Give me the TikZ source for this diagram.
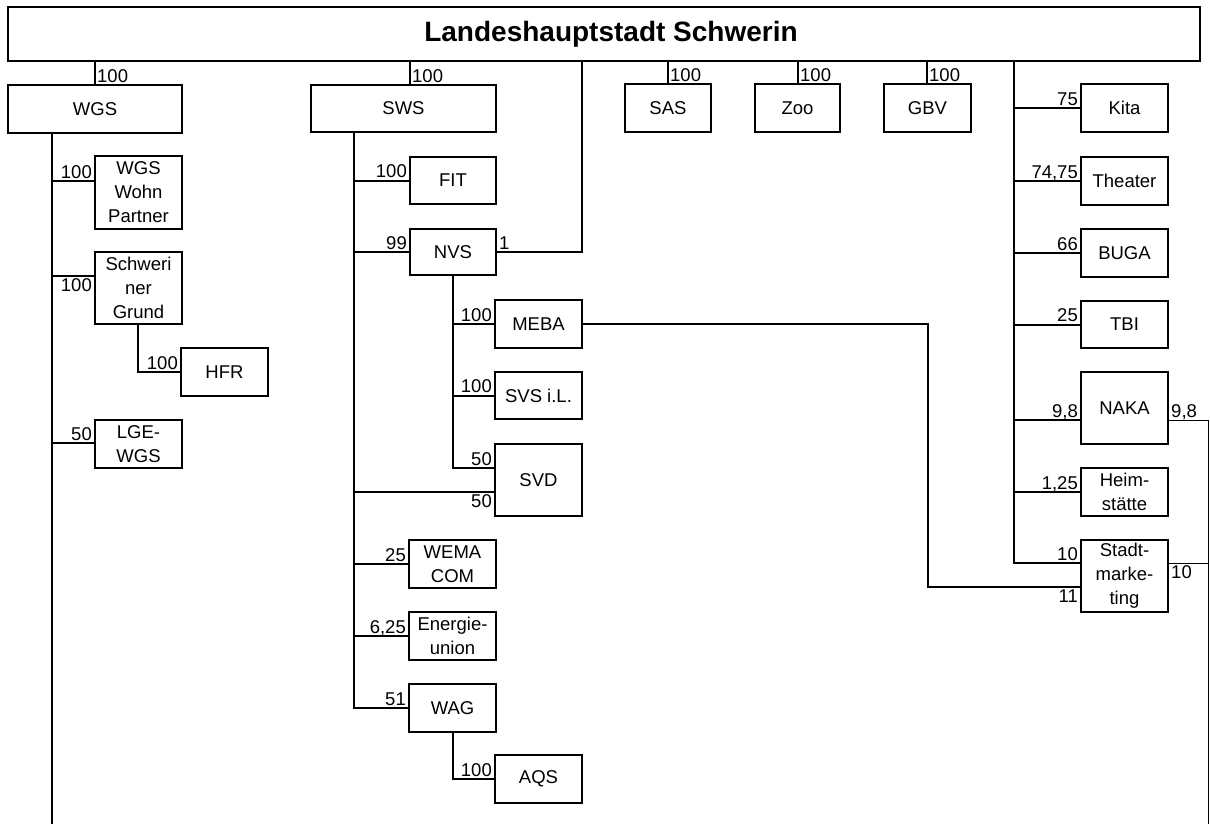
\documentclass[tikz,border=0pt]{standalone}
\usepackage{fontspec}
\setmainfont{Liberation Sans}
\newcommand{\fs}{\fontsize{18.5}{24}\selectfont}
\newcommand{\bx}[6]{\node[bx,minimum width={(#4-#2)*1pt},minimum height={(#5-#3)*1pt}] (#1) at ({(#2+#4)/2},{(#3+#5)/2}) {#6};}
\begin{document}
\begin{tikzpicture}[x=1pt,y=-1pt,
 bx/.style={draw,line width=2pt,inner sep=0pt,align=center,font=\fs},
 lbl/.style={inner xsep=2pt,inner ysep=2.5pt,font=\fs,text depth=0pt},
 ln/.style={line width=2pt},
 thn/.style={line width=1pt},
 mid/.style={line width=1.6pt}]
\useasboundingbox (0,0) rectangle (1210,824);
\fill[white] (0,0) rectangle (1210,824);

% title
\node[draw,line width=2pt,minimum width=1192pt,minimum height=54pt,inner sep=0pt,
      font=\fontsize{28}{32}\selectfont\bfseries] (title) at (604,34)
      {\hspace*{14pt}Landeshauptstadt Schwerin};

% boxes
\bx{WGS}{8}{85}{182}{133}{WGS}
\bx{WWP}{95}{156}{182}{229}{WGS\\Wohn\\Partner}
\bx{SG}{95}{252}{182}{324}{Schweri\\ner\\Grund}
\bx{HFR}{181}{348}{268}{396}{HFR}
\bx{LGE}{95}{420}{182}{468}{LGE-\\WGS}
\bx{SWS}{311}{85}{496}{132}{SWS}
\bx{FIT}{410}{157}{496}{204}{FIT}
\bx{NVS}{410}{229}{496}{275}{NVS}
\bx{MEBA}{495}{300}{582}{348}{MEBA}
\bx{SVS}{495}{372}{582}{419}{SVS i.L.}
\bx{SVD}{495}{444}{582}{516}{SVD}
\bx{WEMA}{409}{540}{496}{588}{WEMA\\COM}
\bx{EU}{409}{612}{496}{660}{Energie-\\union}
\bx{WAG}{409}{684}{496}{732}{WAG}
\bx{AQS}{495}{755}{582}{803}{AQS}
\bx{SAS}{625}{84}{711}{132}{SAS}
\bx{Zoo}{755}{84}{840}{132}{Zoo}
\bx{GBV}{884}{84}{971}{132}{GBV}
\bx{Kita}{1081}{84}{1168}{132}{Kita}
\bx{Theater}{1081}{157}{1168}{205}{Theater}
\bx{BUGA}{1081}{229}{1168}{277}{BUGA}
\bx{TBI}{1081}{301}{1168}{348}{TBI}
\bx{NAKA}{1081}{372}{1168}{444}{NAKA}
\bx{Heim}{1081}{468}{1168}{516}{Heim-\\stätte}
\bx{Stadt}{1081}{540}{1168}{612}{Stadt-\\marke-\\ting}

% connectors from title
\draw[ln] (title.south -| 95,0) -- (WGS.north -| 95,0);
\draw[ln] (title.south -| 410,0) -- (SWS.north -| 410,0);
\draw[ln] (title.south -| 668,0) -- (SAS.north -| 668,0);
\draw[ln] (title.south -| 798,0) -- (Zoo.north -| 798,0);
\draw[ln] (title.south -| 927,0) -- (GBV.north -| 927,0);

% WGS tree
\coordinate (wT) at (52,824);
\draw[ln] (WGS.south -| wT) -- (wT);
\draw[ln] (wT |- 0,181) -- (WWP.west |- 0,181);
\draw[ln] (wT |- 0,276) -- (SG.west |- 0,276);
\draw[ln] (wT |- 0,443) -- (LGE.west |- 0,443);
\draw[ln] (SG.south -| 138,0) |- (HFR.west);

% SWS tree
\coordinate (sT) at (354,708);
\draw[ln] (SWS.south -| sT) -- (sT) -- (WAG.west);
\draw[ln] (sT |- FIT.west) -- (FIT.west);
\draw[ln] (sT |- NVS.west) -- (NVS.west);
\draw[ln] (sT |- 0,492) -- (SVD.west |- 0,492);
\draw[ln] (sT |- WEMA.west) -- (WEMA.west);
\draw[ln] (sT |- EU.west) -- (EU.west);
\draw[ln] (NVS.east) -| (title.south -| 582,0);
\coordinate (nT) at (453,468);
\draw[ln] (NVS.south -| nT) -- (nT) -- (SVD.west |- nT);
\draw[ln] (nT |- MEBA.west) -- (MEBA.west);
\draw[ln] (nT |- SVS.west) -- (SVS.west);
\draw[ln] (WAG.south -| 453,0) |- (AQS.west);
\draw[mid] (MEBA.east) -| (928,587) -- (Stadt.west |- 0,587);

% right tree
\coordinate (rT) at (1014,563);
\draw[ln] (title.south -| rT) -- (rT) -- (Stadt.west |- rT);
\draw[ln] (rT |- Kita.west) -- (Kita.west);
\draw[ln] (rT |- Theater.west) -- (Theater.west);
\draw[ln] (rT |- BUGA.west) -- (BUGA.west);
\draw[ln] (rT |- TBI.west) -- (TBI.west);
\draw[ln] (rT |- 0,420) -- (NAKA.west |- 0,420);
\draw[ln] (rT |- Heim.west) -- (Heim.west);
\draw[thn] (NAKA.east |- 0,420) -| (1208,824);
\draw[thn] (Stadt.east |- rT) -- (1208,563);

% labels
\node[lbl,anchor=south west] (l1) at (95,85) {100};
\node[lbl,anchor=south west] (l2) at (410,85) {100};
\node[lbl,anchor=south west] (l3) at (668,84) {100};
\node[lbl,anchor=south west] (l4) at (798,84) {100};
\node[lbl,anchor=south west] (l5) at (927,84) {100};
\node[lbl,anchor=south east] at (WWP.west |- 0,181) {100};
\node[lbl,anchor=north east] at (SG.west |- 0,276) {100};
\node[lbl,anchor=south east] at (HFR.west) {100};
\node[lbl,anchor=south east] at (LGE.west |- 0,443) {50};
\node[lbl,anchor=south east] at (FIT.west) {100};
\node[lbl,anchor=south east] at (NVS.west) {99};
\node[lbl,anchor=south west] at (NVS.east) {1};
\node[lbl,anchor=south east] at (MEBA.west) {100};
\node[lbl,anchor=south east] at (SVS.west) {100};
\node[lbl,anchor=south east] at (SVD.west |- 0,468) {50};
\node[lbl,anchor=north east] at (SVD.west |- 0,492) {50};
\node[lbl,anchor=south east] at (WEMA.west) {25};
\node[lbl,anchor=south east] at (EU.west) {6,25};
\node[lbl,anchor=south east] at (WAG.west) {51};
\node[lbl,anchor=south east] at (AQS.west) {100};
\node[lbl,anchor=south east] at (Kita.west) {75};
\node[lbl,anchor=south east] at (Theater.west) {74,75};
\node[lbl,anchor=south east] at (BUGA.west) {66};
\node[lbl,anchor=south east] at (TBI.west) {25};
\node[lbl,anchor=south east] at (NAKA.west |- 0,420) {9,8};
\node[lbl,anchor=south west] at (NAKA.east |- 0,420) {9,8};
\node[lbl,anchor=south east] at (Heim.west) {1,25};
\node[lbl,anchor=south east] at (Stadt.west |- rT) {10};
\node[lbl,anchor=north east] at (Stadt.west |- 0,587) {11};
\node[lbl,anchor=north west] at (Stadt.east |- rT) {10};
\end{tikzpicture}
\end{document}
